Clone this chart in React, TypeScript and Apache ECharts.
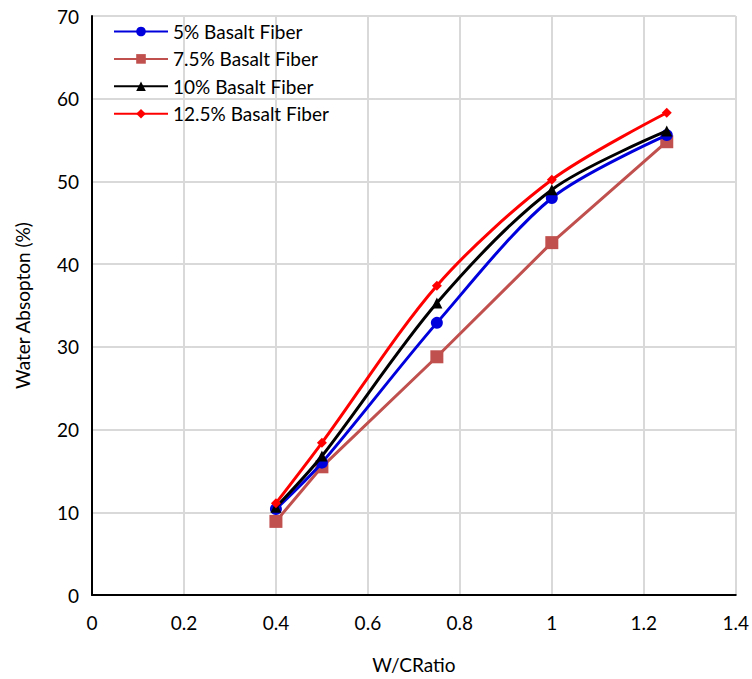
import React, { useEffect, useRef } from "react";
import * as echarts from "echarts";

const wcRatio = [0.4, 0.5, 0.75, 1.0, 1.25];
const fiber5 = [10.4, 16.0, 32.9, 48.0, 55.6];
const fiber75 = [8.9, 15.5, 28.8, 42.6, 54.8];
const fiber10 = [10.6, 16.8, 35.3, 49.0, 56.1];
const fiber125 = [11.1, 18.4, 37.4, 50.2, 58.3];
const seriesNames = ["5% Basalt Fiber", "7.5% Basalt Fiber", "10% Basalt Fiber", "12.5% Basalt Fiber"];

const FONT = "Lato";

export default function App() {
  const ref = useRef<HTMLDivElement>(null);
  useEffect(() => {
    if (!ref.current) return;
    const chart = echarts.init(ref.current, null, { renderer: "svg" });
    const pts = (ys: number[]) => wcRatio.map((x, i) => [x, ys[i]]);
    chart.setOption({
      animation: false,
      backgroundColor: "#ffffff",
      textStyle: { fontFamily: FONT },
      grid: { left: 92, right: 16, top: 16, bottom: 84 },
      legend: {
        orient: "vertical",
        left: 108,
        top: 17,
        itemWidth: 54,
        itemHeight: 12,
        itemGap: 8.4,
        textStyle: { fontFamily: FONT, fontSize: 19, color: "#000" },
        data: seriesNames,
      },
      xAxis: {
        type: "value",
        min: 0,
        max: 1.4,
        interval: 0.2,
        name: "W/CRatio",
        nameLocation: "middle",
        nameGap: 60,
        nameTextStyle: { fontFamily: FONT, fontSize: 19, color: "#000" },
        axisLine: { show: true, lineStyle: { color: "#000", width: 2 } },
        axisTick: { show: false },
        axisLabel: { fontFamily: FONT, fontSize: 19, color: "#000", margin: 18,
          formatter: (v: number) => String(Math.round(v * 10) / 10) },
        splitLine: { show: true, lineStyle: { color: "#d9d9d9", width: 2 } },
      },
      yAxis: {
        type: "value",
        min: 0,
        max: 70,
        interval: 10,
        name: "Water Absopton (%)",
        nameLocation: "middle",
        nameGap: 60,
        nameTextStyle: { fontFamily: FONT, fontSize: 19, color: "#000" },
        axisLine: { show: true, lineStyle: { color: "#000", width: 2 } },
        axisTick: { show: false },
        axisLabel: { fontFamily: FONT, fontSize: 19, color: "#000", margin: 13 },
        splitLine: { show: true, lineStyle: { color: "#d9d9d9", width: 2 } },
      },
      series: [
        {
          name: seriesNames[0], type: "line", smooth: 0.3, data: pts(fiber5),
          symbol: "circle", symbolSize: 12,
          lineStyle: { color: "#0000dd", width: 3 }, itemStyle: { color: "#0000dd" }, z: 2,
        },
        {
          name: seriesNames[1], type: "line", smooth: false, data: pts(fiber75),
          symbol: "rect", symbolSize: 13,
          lineStyle: { color: "#c0504d", width: 3 }, itemStyle: { color: "#c0504d" }, z: 1,
        },
        {
          name: seriesNames[2], type: "line", smooth: 0.3, data: pts(fiber10),
          symbol: "triangle", symbolSize: 11,
          lineStyle: { color: "#000000", width: 3 }, itemStyle: { color: "#000000" }, z: 3,
        },
        {
          name: seriesNames[3], type: "line", smooth: 0.3, data: pts(fiber125),
          symbol: "diamond", symbolSize: 10,
          lineStyle: { color: "#ff0000", width: 3 }, itemStyle: { color: "#ff0000" }, z: 4,
        },
      ],
    });
    return () => chart.dispose();
  }, []);
  return <div ref={ref} style={{ position: "fixed", left: 0, top: 0, width: 752, height: 679 }} />;
}
